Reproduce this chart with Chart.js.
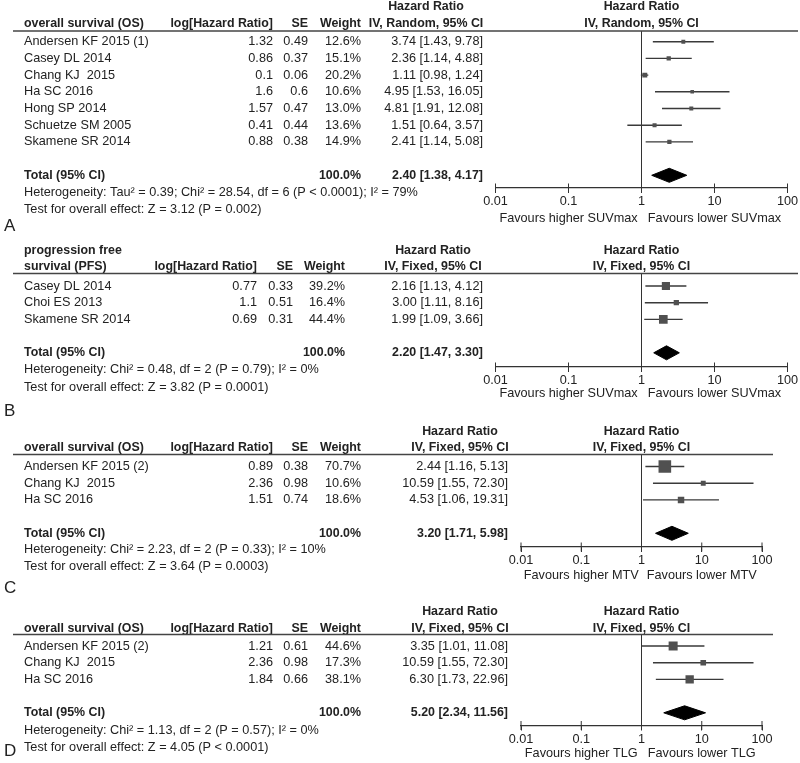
<!DOCTYPE html>
<html>
<head>
<meta charset="utf-8">
<script src="https://cdn.jsdelivr.net/npm/chart.js@4/dist/chart.umd.min.js"></script>
<style>
  body { margin: 0; background: #fff; }
  #wrap { position: relative; width: 800px; height: 763px; }
  canvas { position: absolute; left: 0; top: 0; }
</style>
</head>
<body>
<div id="wrap">
  <canvas id="chartA" width="800" height="763"></canvas>
  <canvas id="chartB" width="800" height="763"></canvas>
  <canvas id="chartC" width="800" height="763"></canvas>
  <canvas id="chartD" width="800" height="763"></canvas>
</div>
<script>
const tickValues = [0.01, 0.1, 1, 10, 100];
const tickLabels = ['0.01', '0.1', '1', '10', '100'];

// A - overall survival, SUVmax
const studiesA = ['Andersen KF 2015 (1)', 'Casey DL 2014', 'Chang KJ  2015', 'Ha SC 2016', 'Hong SP 2014', 'Schuetze SM 2005', 'Skamene SR 2014'];
const logHrA = [1.32, 0.86, 0.1, 1.6, 1.57, 0.41, 0.88];
const seA = [0.49, 0.37, 0.06, 0.6, 0.47, 0.44, 0.38];
const weightA = [12.6, 15.1, 20.2, 10.6, 13.0, 13.6, 14.9];
const hrA = [3.74, 2.36, 1.11, 4.95, 4.81, 1.51, 2.41];
const lowerA = [1.43, 1.14, 0.98, 1.53, 1.91, 0.64, 1.14];
const upperA = [9.78, 4.88, 1.24, 16.05, 12.08, 3.57, 5.08];
const totalA = [2.40, 1.38, 4.17];
const hetA = 'Heterogeneity: Tau² = 0.39; Chi² = 28.54, df = 6 (P < 0.0001); I² = 79%';
const testA = 'Test for overall effect: Z = 3.12 (P = 0.002)';
const favoursA = ['Favours higher SUVmax', 'Favours lower SUVmax'];

// B - progression free survival, SUVmax
const studiesB = ['Casey DL 2014', 'Choi ES 2013', 'Skamene SR 2014'];
const logHrB = [0.77, 1.1, 0.69];
const seB = [0.33, 0.51, 0.31];
const weightB = [39.2, 16.4, 44.4];
const hrB = [2.16, 3.00, 1.99];
const lowerB = [1.13, 1.11, 1.09];
const upperB = [4.12, 8.16, 3.66];
const totalB = [2.20, 1.47, 3.30];
const hetB = 'Heterogeneity: Chi² = 0.48, df = 2 (P = 0.79); I² = 0%';
const testB = 'Test for overall effect: Z = 3.82 (P = 0.0001)';
const favoursB = ['Favours higher SUVmax', 'Favours lower SUVmax'];

// C - overall survival, MTV
const studiesC = ['Andersen KF 2015 (2)', 'Chang KJ  2015', 'Ha SC 2016'];
const logHrC = [0.89, 2.36, 1.51];
const seC = [0.38, 0.98, 0.74];
const weightC = [70.7, 10.6, 18.6];
const hrC = [2.44, 10.59, 4.53];
const lowerC = [1.16, 1.55, 1.06];
const upperC = [5.13, 72.30, 19.31];
const totalC = [3.20, 1.71, 5.98];
const hetC = 'Heterogeneity: Chi² = 2.23, df = 2 (P = 0.33); I² = 10%';
const testC = 'Test for overall effect: Z = 3.64 (P = 0.0003)';
const favoursC = ['Favours higher MTV', 'Favours lower MTV'];

// D - overall survival, TLG
const studiesD = ['Andersen KF 2015 (2)', 'Chang KJ  2015', 'Ha SC 2016'];
const logHrD = [1.21, 2.36, 1.84];
const seD = [0.61, 0.98, 0.66];
const weightD = [44.6, 17.3, 38.1];
const hrD = [3.35, 10.59, 6.30];
const lowerD = [1.01, 1.55, 1.73];
const upperD = [11.08, 72.30, 22.96];
const totalD = [5.20, 2.34, 11.56];
const hetD = 'Heterogeneity: Chi² = 1.13, df = 2 (P = 0.57); I² = 0%';
const testD = 'Test for overall effect: Z = 4.05 (P < 0.0001)';
const favoursD = ['Favours higher TLG', 'Favours lower TLG'];

const FONT = "'Liberation Sans', Arial, sans-serif";
const INK = '#222';
const ROW_H = 16.7;
const AXIS_H = 25;

function ciText(e, lo, hi) {
  return e.toFixed(2) + ' [' + lo.toFixed(2) + ', ' + hi.toFixed(2) + ']';
}

// draws the table part of one panel, rows follow the y scale
function tablePlugin(p) {
  return {
    id: 'table' + p.letter,
    afterDraw(chart) {
      const ctx = chart.ctx;
      const xs = chart.scales.x, ys = chart.scales.y;
      const n = p.studies.length;
      const put = (s, x, y, align, bold, size) => {
        ctx.font = (bold ? 'bold ' : '') + (size || (bold ? 12.4 : 12.7)) + 'px ' + FONT;
        ctx.textAlign = align;
        ctx.fillText(s, x, y);
      };
      ctx.save();
      ctx.fillStyle = INK;
      ctx.textBaseline = 'middle';

      const gap = p.colHead - p.hrHead;
      p.title.forEach((s, k) => put(s, 24, p.colHead - (p.title.length - 1 - k) * gap, 'left', true));
      put('log[Hazard Ratio]', p.logHead, p.colHead, 'right', true);
      put('SE', p.seHead, p.colHead, 'right', true);
      put('Weight', p.wtHead, p.colHead, 'right', true);
      put('Hazard Ratio', p.ciHead, p.hrHead, 'center', true);
      put(p.method, p.ciHead, p.colHead, 'center', true);
      const x1 = xs.getPixelForValue(1);
      put('Hazard Ratio', x1, p.hrHead, 'center', true);
      put(p.method, x1, p.colHead, 'center', true);

      ctx.strokeStyle = '#444';
      ctx.lineWidth = 1.3;
      ctx.beginPath();
      ctx.moveTo(13, chart.chartArea.top);
      ctx.lineTo(p.lineR, chart.chartArea.top);
      ctx.stroke();

      p.studies.forEach((s, i) => {
        const y = ys.getPixelForValue(i);
        put(s, 24, y, 'left');
        put(String(p.logHr[i]), p.logVal, y, 'right');
        put(String(p.se[i]), p.seVal, y, 'right');
        put(p.weight[i].toFixed(1) + '%', p.wtVal, y, 'right');
        put(ciText(p.hr[i], p.lower[i], p.upper[i]), p.ciVal, y, 'right');
      });
      const ty = ys.getPixelForValue(n + 1);
      put('Total (95% CI)', 24, ty, 'left', true);
      put('100.0%', p.wtVal, ty, 'right', true);
      put(ciText(p.total[0], p.total[1], p.total[2]), p.ciVal, ty, 'right', true);
      put(p.het, 24, p.hetY, 'left');
      put(p.test, 24, p.testY, 'left');

      const xl = xs.getPixelForValue(0.01), xr = xs.getPixelForValue(100);
      put(p.favours[0], (xl + x1) / 2, p.favY, 'center');
      put(p.favours[1], (x1 + xr) / 2, p.favY, 'center');
      put(p.letter, 4, p.letterY, 'left', false, 17);
      ctx.restore();
    }
  };
}

function forest(id, p) {
  const n = p.studies.length;
  const yMin = -(p.firstRow - p.top) / ROW_H;
  const yMax = yMin + (p.axis - p.top) / ROW_H;
  const tRow = n + 1;
  const dh = 0.42;

  const boxes = p.hr.map((v, i) => ({ x: v, y: i }));
  const ci = [];
  p.lower.forEach((lo, i) => {
    ci.push({ x: lo, y: i }, { x: p.upper[i], y: i }, { x: p.upper[i], y: null });
  });
  const t = p.total;
  const diamond = [
    { x: t[1], y: tRow }, { x: t[0], y: tRow - dh }, { x: t[2], y: tRow },
    { x: t[0], y: tRow + dh }, { x: t[1], y: tRow }
  ];

  new Chart(document.getElementById(id), {
    type: 'line',
    data: {
      datasets: [
        { data: boxes, showLine: false, pointStyle: 'rect',
          pointRadius: p.weight.map(w => p.boxScale * Math.sqrt(w) / Math.SQRT2),
          pointBackgroundColor: '#505050', pointBorderWidth: 0 },
        { data: diamond, fill: 'shape', backgroundColor: '#000', borderColor: '#000',
          borderWidth: 1, pointRadius: 0 },
        { data: ci, borderColor: '#3a3a3a', borderWidth: 1.4, pointRadius: 0, spanGaps: false },
        { data: [{ x: 1, y: yMin }, { x: 1, y: yMax }], borderColor: '#333', borderWidth: 1, pointRadius: 0 },
        { data: tickValues.map(v => ({ x: v, y: yMax })), showLine: false, pointStyle: 'line',
          rotation: 90, pointRadius: 4.5, pointBorderColor: '#333', pointBorderWidth: 1, clip: false }
      ]
    },
    options: {
      responsive: false,
      animation: false,
      devicePixelRatio: 1,
      events: [],
      layout: { padding: { left: p.left, right: 800 - p.right, top: p.top, bottom: 763 - p.axis - AXIS_H } },
      plugins: { legend: { display: false }, tooltip: { enabled: false } },
      scales: {
        x: {
          type: 'logarithmic', min: 0.01, max: 100, position: 'bottom',
          afterBuildTicks: s => { s.ticks = tickValues.map(v => ({ value: v })); },
          afterFit: s => { s.height = AXIS_H; },
          grid: { drawOnChartArea: false, drawTicks: true, tickLength: 5, color: '#333', lineWidth: 1 },
          border: { display: true, color: '#333', width: 1.2 },
          ticks: { autoSkip: false, maxRotation: 0, padding: 1, color: INK,
            font: { family: FONT, size: 12.7 },
            callback: (v, i) => tickLabels[i] }
        },
        y: { type: 'linear', display: false, reverse: true, min: yMin, max: yMax }
      }
    },
    plugins: [tablePlugin(p)]
  });
}

forest('chartA', {
  letter: 'A', title: ['overall survival (OS)'], method: 'IV, Random, 95% CI',
  studies: studiesA, logHr: logHrA, se: seA, weight: weightA, hr: hrA, lower: lowerA, upper: upperA,
  total: totalA, het: hetA, test: testA, favours: favoursA,
  top: 31, axis: 188, firstRow: 41.7, left: 495.5, right: 787.5, lineR: 798,
  hrHead: 7, colHead: 24, hetY: 192.5, testY: 209.5, favY: 218, letterY: 226,
  logHead: 273, seHead: 308, wtHead: 361, logVal: 273, seVal: 308, wtVal: 361, ciVal: 483, ciHead: 426,
  boxScale: 1.1
});

forest('chartB', {
  letter: 'B', title: ['progression free', 'survival (PFS)'], method: 'IV, Fixed, 95% CI',
  studies: studiesB, logHr: logHrB, se: seB, weight: weightB, hr: hrB, lower: lowerB, upper: upperB,
  total: totalB, het: hetB, test: testB, favours: favoursB,
  top: 273.5, axis: 367, firstRow: 286, left: 495.5, right: 787.5, lineR: 798,
  hrHead: 251, colHead: 267, hetY: 369.5, testY: 387, favY: 393, letterY: 411,
  logHead: 257, seHead: 293, wtHead: 345, logVal: 257, seVal: 293, wtVal: 345, ciVal: 483, ciHead: 433,
  boxScale: 1.3
});

forest('chartC', {
  letter: 'C', title: ['overall survival (OS)'], method: 'IV, Fixed, 95% CI',
  studies: studiesC, logHr: logHrC, se: seC, weight: weightC, hr: hrC, lower: lowerC, upper: upperC,
  total: totalC, het: hetC, test: testC, favours: favoursC,
  top: 454.5, axis: 547, firstRow: 466.5, left: 521, right: 762, lineR: 773,
  hrHead: 432, colHead: 448, hetY: 549, testY: 566.5, favY: 575, letterY: 588,
  logHead: 273, seHead: 308, wtHead: 361, logVal: 273, seVal: 308, wtVal: 361, ciVal: 508, ciHead: 460,
  boxScale: 1.5
});

forest('chartD', {
  letter: 'D', title: ['overall survival (OS)'], method: 'IV, Fixed, 95% CI',
  studies: studiesD, logHr: logHrD, se: seD, weight: weightD, hr: hrD, lower: lowerD, upper: upperD,
  total: totalD, het: hetD, test: testD, favours: favoursD,
  top: 634.5, axis: 725.5, firstRow: 646, left: 521, right: 762, lineR: 773,
  hrHead: 612, colHead: 629, hetY: 730, testY: 747, favY: 753, letterY: 751,
  logHead: 273, seHead: 308, wtHead: 361, logVal: 273, seVal: 308, wtVal: 361, ciVal: 508, ciHead: 460,
  boxScale: 1.35
});
</script>
</body>
</html>
